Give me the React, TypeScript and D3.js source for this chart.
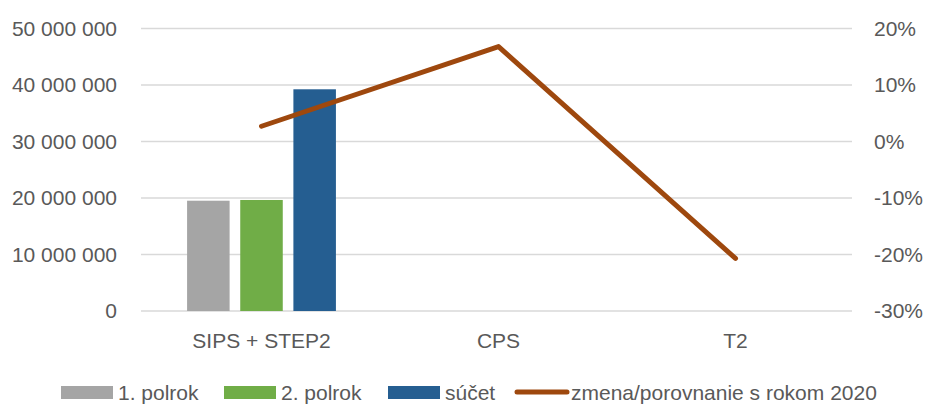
import React, { useEffect, useRef } from "react";
import * as d3 from "d3";

// categories and series
const categories = ["SIPS + STEP2", "CPS", "T2"];
const seriesNames = ["1. polrok", "2. polrok", "súčet"];
const polrok1 = [19520000, null, null];
const polrok2 = [19650000, null, null];
const sucet = [39240000, null, null];
const zmena = [2.7, 16.8, -20.7];
const lineName = "zmena/porovnanie s rokom 2020";

const leftTicks = [0, 10000000, 20000000, 30000000, 40000000, 50000000];
const rightTicks = [-30, -20, -10, 0, 10, 20];

const colors = ["#A5A5A5", "#70AD47", "#255E91"];
const lineColor = "#9E480E";

const App = () => {
  const ref = useRef<SVGSVGElement>(null);

  useEffect(() => {
    const svg = d3.select(ref.current);
    svg.selectAll("*").remove();

    const margin = { top: 28.5, right: 86, bottom: 94, left: 141 };
    const W = 938, H = 405;
    const width = W - margin.left - margin.right;
    const height = H - margin.top - margin.bottom;
    const font = "'Liberation Sans', Arial, sans-serif";

    const g = svg.append("g").attr("transform", `translate(${margin.left},${margin.top})`);

    const x0 = d3.scaleBand().domain(categories).range([2, width + 2]).padding(0);
    const x1 = d3
      .scaleBand()
      .domain(seriesNames)
      .range([x0.bandwidth() * 0.186, x0.bandwidth() * 0.814])
      .paddingInner(0.2);
    const yL = d3.scaleLinear().domain([0, 50000000]).range([height, 0]);
    const yR = d3.scaleLinear().domain([-30, 20]).range([height, 0]);

    // gridlines
    g.selectAll(".grid")
      .data(leftTicks)
      .enter()
      .append("line")
      .attr("x1", 0)
      .attr("x2", width)
      .attr("y1", (d) => yL(d))
      .attr("y2", (d) => yL(d))
      .attr("stroke", "#D9D9D9")
      .attr("stroke-width", 1.3);

    const fmtSpace = (d: number) => d3.format(",")(d).replace(/,/g, " ");

    const axL = g
      .append("g")
      .call(d3.axisLeft(yL).tickValues(leftTicks).tickSize(0).tickPadding(24).tickFormat((d) => fmtSpace(+d)));
    axL.select(".domain").remove();
    axL.selectAll("text").attr("fill", "#595959").style("font-size", "21px").style("font-family", font);

    const axR = g
      .append("g")
      .attr("transform", `translate(${width},0)`)
      .call(d3.axisRight(yR).tickValues(rightTicks).tickSize(0).tickPadding(22).tickFormat((d) => `${d}%`));
    axR.select(".domain").remove();
    axR.selectAll("text").attr("fill", "#595959").style("font-size", "21px").style("font-family", font);

    const axB = g
      .append("g")
      .attr("transform", `translate(0,${height})`)
      .call(d3.axisBottom(x0).tickSize(0).tickPadding(22));
    axB.select(".domain").remove();
    axB.selectAll("text").attr("fill", "#595959").style("font-size", "21px").style("font-family", font);

    // bars
    const seriesVals = [polrok1, polrok2, sucet];
    seriesVals.forEach((vals, si) => {
      g.selectAll(`.bar${si}`)
        .data(categories.map((c, i) => ({ c, v: vals[i] })).filter((d) => d.v != null))
        .enter()
        .append("rect")
        .attr("x", (d) => (x0(d.c) as number) + (x1(seriesNames[si]) as number))
        .attr("y", (d) => yL(d.v as number))
        .attr("width", x1.bandwidth())
        .attr("height", (d) => height - yL(d.v as number))
        .attr("fill", colors[si]);
    });

    // line
    const line = d3
      .line<number>()
      .x((_, i) => (x0(categories[i]) as number) + x0.bandwidth() / 2)
      .y((d) => yR(d));
    g.append("path")
      .datum(zmena)
      .attr("d", line)
      .attr("fill", "none")
      .attr("stroke", lineColor)
      .attr("stroke-width", 5)
      .attr("stroke-linecap", "round")
      .attr("stroke-linejoin", "round");

    // legend
    const legY = 392;
    const legendItems = [
      { name: seriesNames[0], color: colors[0], x: 61, type: "rect" },
      { name: seriesNames[1], color: colors[1], x: 224, type: "rect" },
      { name: seriesNames[2], color: colors[2], x: 388, type: "rect" },
      { name: lineName, color: lineColor, x: 514, type: "line" },
    ];
    const leg = svg.append("g");
    legendItems.forEach((it) => {
      if (it.type === "rect") {
        leg.append("rect").attr("x", it.x).attr("y", legY - 6).attr("width", 52).attr("height", 13).attr("fill", it.color);
      } else {
        leg
          .append("line")
          .attr("x1", it.x + 3)
          .attr("x2", it.x + 53)
          .attr("y1", legY)
          .attr("y2", legY)
          .attr("stroke", it.color)
          .attr("stroke-width", 5)
          .attr("stroke-linecap", "round");
      }
      leg
        .append("text")
        .attr("x", it.x + 57)
        .attr("y", legY + 8)
        .attr("fill", "#595959")
        .style("font-size", "21px")
        .style("font-family", font)
        .text(it.name);
    });
  }, []);

  return (
    <svg
      ref={ref}
      width={938}
      height={405}
      style={{ position: "absolute", left: 0, top: 0, background: "#fff" }}
    />
  );
};

export default App;
